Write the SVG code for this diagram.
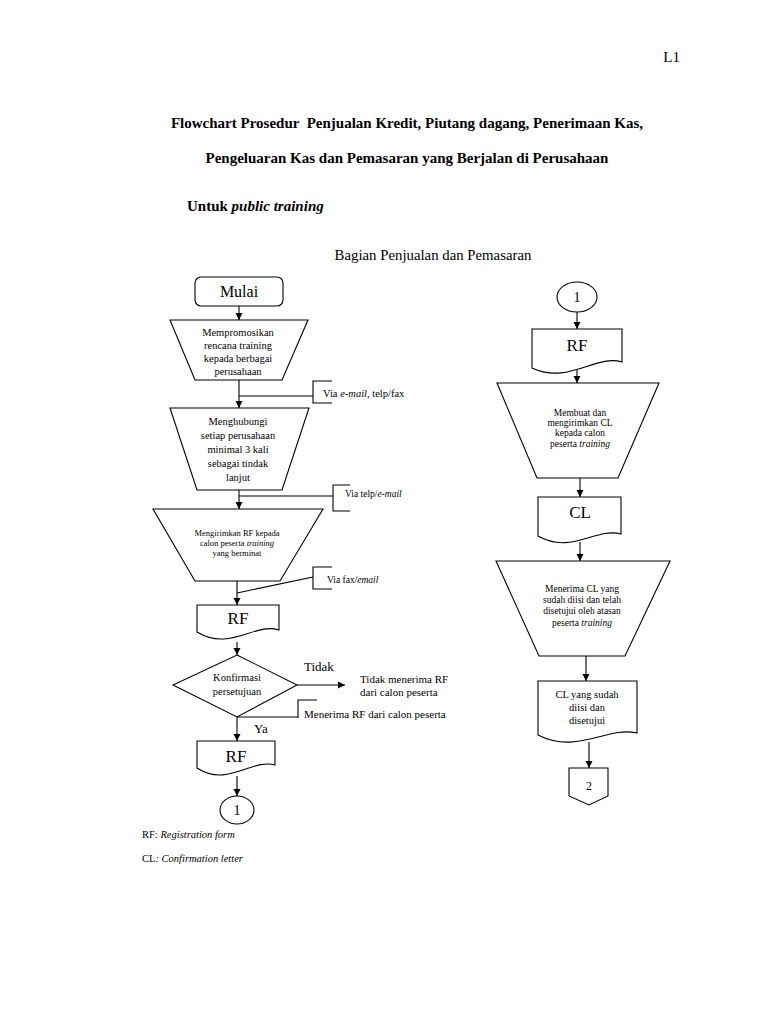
<svg xmlns="http://www.w3.org/2000/svg" width="768" height="1024" viewBox="0 0 768 1024">
<style>
text{font-family:"Liberation Serif","Times New Roman",serif;fill:#000}
.s{fill:#fff;stroke:#000;stroke-width:1.1}
.ln{fill:none;stroke:#000;stroke-width:1.1}
.c{text-anchor:middle}
.t17{font-size:17px}
.t10{font-size:10.5px}
.t9{font-size:9.5px}
.t8{font-size:8.5px}
.t11{font-size:11px}
.i{font-style:italic}
</style>
<defs>
<marker id="ah" markerWidth="8" markerHeight="8" refX="7" refY="4" orient="auto" markerUnits="userSpaceOnUse">
<path d="M0,0.5 L7,4 L0,7.5 Z" fill="#000"/>
</marker>
</defs>

<text x="680" y="62" font-size="15" text-anchor="end">L1</text>
<text x="407" y="128" font-size="15" font-weight="bold" class="c" xml:space="preserve">Flowchart Prosedur  Penjualan Kredit, Piutang dagang, Penerimaan Kas,</text>
<text x="407" y="163" font-size="15" font-weight="bold" class="c">Pengeluaran Kas dan Pemasaran yang Berjalan di Perusahaan</text>
<text x="187" y="211" font-size="15" font-weight="bold">Untuk <tspan font-style="italic">public training</tspan></text>
<text x="433" y="260" font-size="14.8" class="c">Bagian Penjualan dan Pemasaran</text>

<g id="connectors">
<line class="ln" x1="239" y1="306" x2="239" y2="320" marker-end="url(#ah)"/>
<line class="ln" x1="239" y1="380" x2="239" y2="408" marker-end="url(#ah)"/>
<line class="ln" x1="239" y1="396" x2="313" y2="396"/>
<path class="ln" d="M332,381 H313 V403 H332"/>
<line class="ln" x1="239" y1="490" x2="239" y2="509" marker-end="url(#ah)"/>
<line class="ln" x1="239" y1="496" x2="333" y2="496"/>
<path class="ln" d="M350,485 H333 V511 H350"/>
<line class="ln" x1="237" y1="581" x2="237" y2="605" marker-end="url(#ah)"/>
<line class="ln" x1="313" y1="577" x2="237" y2="593"/>
<path class="ln" d="M332,567 H313 V589 H332"/>
<line class="ln" x1="237" y1="642" x2="237" y2="655" marker-end="url(#ah)"/>
<line class="ln" x1="297" y1="685" x2="345" y2="685" marker-end="url(#ah)"/>
<line class="ln" x1="237" y1="717" x2="298" y2="717"/>
<path class="ln" d="M317,700 H298 V718"/>
<line class="ln" x1="237" y1="717" x2="237" y2="741" marker-end="url(#ah)"/>
<line class="ln" x1="237" y1="776" x2="237" y2="796" marker-end="url(#ah)"/>

<line class="ln" x1="577" y1="312" x2="577" y2="329" marker-end="url(#ah)"/>
<line class="ln" x1="577" y1="370" x2="577" y2="383" marker-end="url(#ah)"/>
<line class="ln" x1="580" y1="478" x2="580" y2="497" marker-end="url(#ah)"/>
<line class="ln" x1="580" y1="542" x2="580" y2="561" marker-end="url(#ah)"/>
<line class="ln" x1="586" y1="656" x2="586" y2="681" marker-end="url(#ah)"/>
<line class="ln" x1="589" y1="742" x2="589" y2="768" marker-end="url(#ah)" stroke="#555"/>
</g>

<g id="mulai">
<rect class="s" x="195" y="277" width="88" height="29" rx="6"/>
<text x="239" y="297" font-size="16" class="c">Mulai</text>
</g>

<g id="mempromosikan">
<path class="s" d="M170,320 H308 L282,380 H195 Z"/>
<text class="t10 c" x="238" y="336">Mempromosikan</text>
<text class="t10 c" x="238" y="349">rencana training</text>
<text class="t10 c" x="238" y="362">kepada berbagai</text>
<text class="t10 c" x="238" y="375">perusahaan</text>
</g>

<g id="via1">
<text class="t10" x="323" y="397">Via <tspan class="i">e-mail</tspan>, telp/fax</text>
</g>

<g id="menghubungi">
<path class="s" d="M170,408 H309 L282,490 H197 Z"/>
<text class="t10 c" x="238" y="425">Menghubungi</text>
<text class="t10 c" x="238" y="439">setiap perusahaan</text>
<text class="t10 c" x="238" y="453">minimal 3 kali</text>
<text class="t10 c" x="238" y="467">sebagai tindak</text>
<text class="t10 c" x="238" y="481">lanjut</text>
</g>

<g id="via2">
<text class="t9" x="345" y="497">Via telp/<tspan class="i">e-mail</tspan></text>
</g>

<g id="mengirimkan">
<path class="s" d="M153,509 H323 L280,581 H195 Z"/>
<text class="t8 c" x="237" y="536">Mengirimkan RF kepada</text>
<text class="t8 c" x="237" y="546">calon peserta <tspan class="i">training</tspan></text>
<text class="t8 c" x="237" y="556">yang berminat</text>
</g>

<g id="via3">
<text class="t9" x="327" y="583">Via fax/<tspan class="i">email</tspan></text>
</g>

<g id="rf1">
<path class="s" d="M197,605 H279 V630 C255,622 230,652 197,632 Z"/>
<text class="t17 c" x="238" y="624">RF</text>
</g>

<g id="konfirmasi">
<path class="s" d="M237,655 L297,685 L237,717 L173,685 Z"/>
<text class="t10 c" x="237" y="681">Konfirmasi</text>
<text class="t10 c" x="237" y="695">persetujuan</text>
</g>

<g id="tidak">
<text x="304" y="671" font-size="13">Tidak</text>
<text class="t11" x="360" y="683">Tidak menerima RF</text>
<text class="t11" x="360" y="696">dari calon peserta</text>
</g>

<g id="ya">
<text class="t11" x="304" y="718">Menerima RF dari calon peserta</text>
<text x="254" y="733" font-size="13">Ya</text>
</g>

<g id="rf2">
<path class="s" d="M197,741 H275 V765 C252,758 228,788 197,768 Z"/>
<text class="t17 c" x="236" y="762">RF</text>
</g>

<g id="c1left">
<ellipse class="s" cx="237" cy="810" rx="17" ry="14"/>
<text x="237" y="815" font-size="14" class="c">1</text>
</g>

<g id="legend">
<text class="t10" x="142" y="838">RF: <tspan class="i">Registration form</tspan></text>
<text class="t10" x="142" y="862">CL<tspan class="i">: Confirmation letter</tspan></text>
</g>

<g id="c1right">
<ellipse class="s" cx="577" cy="297" rx="20" ry="15"/>
<text x="577" y="302" font-size="14" class="c">1</text>
</g>

<g id="rf3">
<path class="s" d="M532,329 H622 V362 C596,354 568,385 532,368 Z"/>
<text class="t17 c" x="577" y="351">RF</text>
</g>

<g id="membuat">
<path class="s" d="M497,383 H659 L618,478 H537 Z"/>
<text class="t9 c" x="580" y="416">Membuat dan</text>
<text class="t9 c" x="580" y="426">mengirimkan CL</text>
<text class="t9 c" x="580" y="436">kepada calon</text>
<text class="t9 c" x="580" y="447">peserta <tspan class="i">training</tspan></text>
</g>

<g id="cl1">
<path class="s" d="M538,497 H621 V534 C596,527 571,555 538,536 Z"/>
<text class="t17 c" x="580" y="518">CL</text>
</g>

<g id="menerima">
<path class="s" d="M496,561 H670 L625,656 H539 Z"/>
<text class="t9 c" x="582" y="592">Menerima CL yang</text>
<text class="t9 c" x="582" y="603">sudah diisi dan telah</text>
<text class="t9 c" x="582" y="614">disetujui oleh atasan</text>
<text class="t9 c" x="582" y="626">peserta <tspan class="i">training</tspan></text>
</g>

<g id="cl2">
<path class="s" d="M538,681 H637 V733 C607,726 577,755 538,735 Z"/>
<text class="t10 c" x="587" y="698">CL yang sudah</text>
<text class="t10 c" x="587" y="711">diisi dan</text>
<text class="t10 c" x="587" y="724">disetujui</text>
</g>

<g id="c2">
<path class="s" d="M569,768 H608 V796 L589,805 L569,796 Z"/>
<text x="589" y="790" font-size="12" font-family="Open Sans, Liberation Sans, sans-serif" class="c">2</text>
</g>
</svg>
